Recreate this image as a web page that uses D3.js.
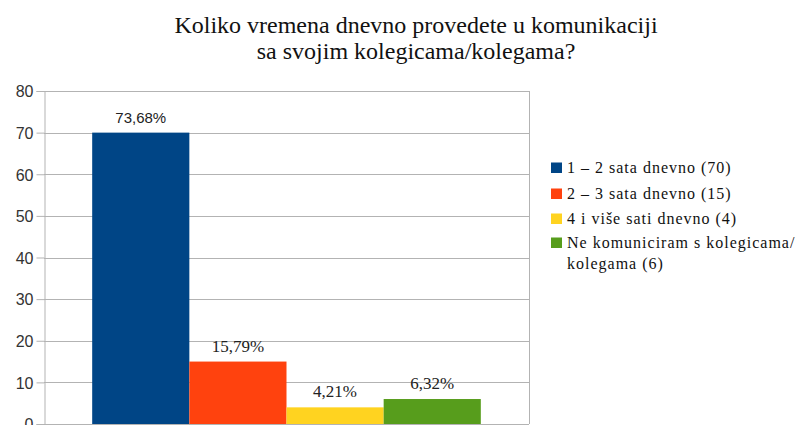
<!DOCTYPE html>
<html><head><meta charset="utf-8">
<script src="https://cdn.jsdelivr.net/npm/d3@7"></script>
</head><body style="margin:0">
<svg id="c" width="811" height="425"></svg>
<script>
const titleLines = ["Koliko vremena dnevno provedete u komunikaciji", "sa svojim kolegicama/kolegama?"];
const categories = ["1 – 2 sata dnevno", "2 – 3 sata dnevno", "4 i više sati dnevno", "Ne komuniciram s kolegicama/kolegama"];
const values = [70, 15, 4, 6];
const percentLabels = ["73,68%", "15,79%", "4,21%", "6,32%"];
const legendLines = [["1 – 2 sata dnevno (70)"], ["2 – 3 sata dnevno (15)"], ["4 i više sati dnevno (4)"], ["Ne komuniciram s kolegicama/", "kolegama (6)"]];
const yTicks = [0, 10, 20, 30, 40, 50, 60, 70, 80];
const colors = ["#004586", "#ff420e", "#ffd320", "#579d1c"];

const SERIF = '"Liberation Serif", "Times New Roman", Tinos, "Noto Serif", serif';
const SANS = '"Liberation Sans", Arial, Arimo, sans-serif';

const svg = d3.select("#c");
const plot = {left: 44, right: 529, top: 91, bottom: 424};

const y = d3.scaleLinear().domain([0, 80]).range([plot.bottom, plot.top]);
const x0 = d3.scaleBand().domain(["g"]).range([plot.left, plot.right]).paddingOuter(0.124).paddingInner(0);
const x1 = d3.scaleBand().domain(categories).range([x0("g"), x0("g") + x0.bandwidth()]);

function font(sel, fam, size) {
  sel.attr("font-family", fam).attr("font-size", size)
     .style("font-family", fam, "important").style("font-size", size + "px", "important");
}

// title
svg.append("g").selectAll("text").data(titleLines).join("text")
  .attr("x", 416).attr("y", (d, i) => 33 + i * 26)
  .attr("text-anchor", "middle").attr("fill", "#111")
  .call(font, SERIF, 24)
  .text(d => d);

// gridlines
svg.append("g").selectAll("line").data(yTicks).join("line")
  .attr("x1", plot.left).attr("x2", plot.right)
  .attr("y1", d => Math.round(y(d)) + 0.5).attr("y2", d => Math.round(y(d)) + 0.5)
  .attr("stroke", "#b3b3b3").attr("stroke-width", 1);
svg.append("line").attr("x1", plot.right + 0.5).attr("x2", plot.right + 0.5)
  .attr("y1", y(80)).attr("y2", plot.bottom).attr("stroke", "#b3b3b3");

// y axis
const yAxis = d3.axisLeft(y).tickValues(yTicks).tickSize(8).tickPadding(3);
const ga = svg.append("g").attr("transform", `translate(${plot.left + 0.5},0)`).call(yAxis);
ga.select(".domain").attr("stroke", "#b3b3b3");
ga.selectAll(".tick line").attr("stroke", "#b3b3b3");
ga.selectAll(".tick text").attr("fill", "#333").attr("dy", "0.36em").call(font, SANS, 16);

// bars
svg.append("g").selectAll("rect").data(values).join("rect")
  .attr("x", (d, i) => x1(categories[i]))
  .attr("width", x1.bandwidth())
  .attr("y", d => y(d))
  .attr("height", d => y(0) - y(d))
  .attr("fill", (d, i) => colors[i]);

// labels
svg.append("g").selectAll("text").data(values).join("text")
  .attr("x", (d, i) => x1(categories[i]) + x1.bandwidth() / 2)
  .attr("y", d => y(d) - 10)
  .attr("text-anchor", "middle").attr("fill", "#222")
  .each(function(d, i) { d3.select(this).call(font, i === 0 ? SANS : SERIF, i === 0 ? 15 : 17); })
  .text((d, i) => percentLabels[i]);

// legend
const lg = svg.append("g");
const rowY = [173, 199, 224, 248];
legendLines.forEach((lines, i) => {
  lg.append("rect").attr("x", 551).attr("y", rowY[i] - 10.5).attr("width", 11).attr("height", 10.5).attr("fill", colors[i]);
  lines.forEach((t, j) => {
    lg.append("text").attr("x", 567).attr("y", rowY[i] + j * 21)
      .call(font, SERIF, 16)
      .attr("letter-spacing", 1).attr("fill", "#111").text(t);
  });
});
</script>
</body></html>
